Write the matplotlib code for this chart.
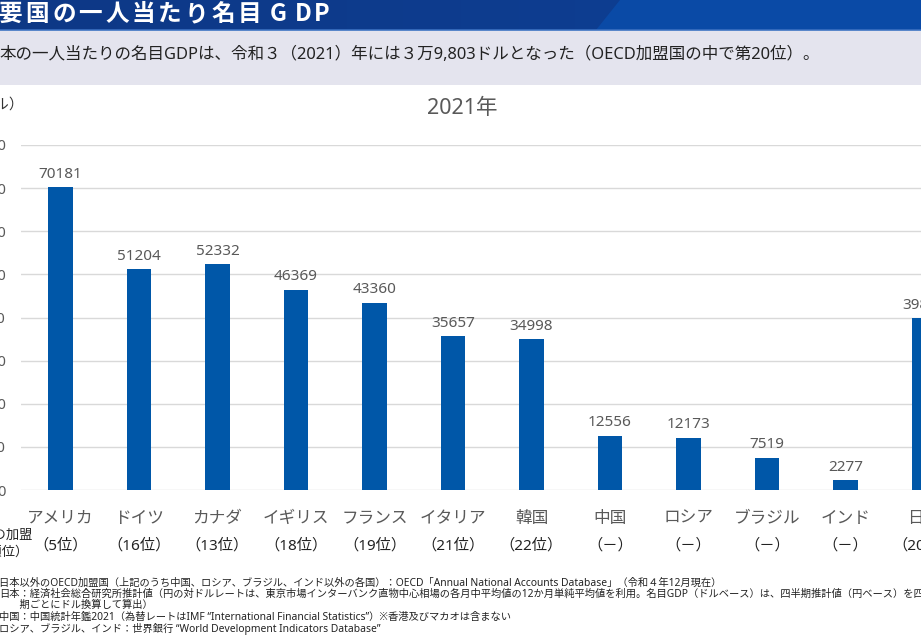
import numpy as np
import matplotlib
matplotlib.use("Agg")
import matplotlib.pyplot as plt
from matplotlib.patches import Polygon
from matplotlib.colors import LinearSegmentedColormap

plt.rcParams['font.family'] = ['Noto Sans', 'Noto Sans CJK JP', 'DejaVu Sans']

countries = ['アメリカ', 'ドイツ', 'カナダ', 'イギリス', 'フランス', 'イタリア',
             '韓国', '中国', 'ロシア', 'ブラジル', 'インド', '日本']
gdp = [70181, 51204, 52332, 46369, 43360, 35657, 34998, 12556, 12173, 7519, 2277, 39803]
ranks = ['（5位）', '（16位）', '（13位）', '（18位）', '（19位）', '（21位）',
         '（22位）', '（－）', '（－）', '（－）', '（－）', '（20位）']
yticks = [0, 10000, 20000, 30000, 40000, 50000, 60000, 70000, 80000]

header_jp = '要国の一人当たり名目'
header_en = 'GDP'
summary = '本の一人当たりの名目GDPは、令和３（2021）年には３万9,803ドルとなった（OECD加盟国の中で第20位）。'
notes = [
    '日本以外のOECD加盟国（上記のうち中国、ロシア、ブラジル、インド以外の各国）：OECD「Annual National Accounts Database」（令和４年12月現在）',
    '日本：経済社会総合研究所推計値（円の対ドルレートは、東京市場インターバンク直物中心相場の各月中平均値の12か月単純平均値を利用。名目GDP（ドルベース）は、四半期推計値（円ベース）を四半',
    '　　期ごとにドル換算して算出）',
    '中国：中国統計年鑑2021（為替レートはIMF “International Financial Statistics”）※香港及びマカオは含まない',
    'ロシア、ブラジル、インド：世界銀行 “World Development Indicators Database”',
]

W, H = 921, 638
fig = plt.figure(figsize=(W / 100, H / 100), dpi=100)

# 背景（ヘッダー帯とサマリー帯）
bg = fig.add_axes([0, 0, 1, 1], zorder=0)
bg.set_xlim(0, W)
bg.set_ylim(H, 0)
bg.axis('off')
grad = np.linspace(0, 1, 300)[None, :]
bg.imshow(grad, extent=[0, W, 30, 0], aspect='auto',
          cmap=LinearSegmentedColormap.from_list('hd', ['#0d3886', '#0d3c8e', '#0e4096']))
bg.add_patch(Polygon([[596, 30], [620, 0], [W, 0], [W, 30]], closed=True,
                     color='#0a4aa6', lw=0))
bg.imshow(grad, extent=[700, W, 30, 0], aspect='auto', alpha=0.9,
          cmap=LinearSegmentedColormap.from_list('hd2', ['#0b4aa8', '#0a3f95']))
bg.axhline(30, color='#3a6fc0', lw=1.2)
bg.add_patch(Polygon([[0, 31], [W, 31], [W, 85], [0, 85]], closed=True,
                     color='#e4e4ee', lw=0))
for i, ch in enumerate(header_jp):
    bg.text(-1 + i * 26.5, 14, ch, color='white', fontsize=17, fontweight='bold',
            va='center', ha='left', family='Noto Sans CJK JP')
for xl, ch in zip([270, 295, 314], header_en):
    bg.text(xl, 14, ch, color='white', fontsize=17, fontweight='bold',
            va='center', ha='left', family='Noto Sans CJK JP')
bg.text(-1, 55, summary, color='#222222', fontsize=11.9, va='center', ha='left')
bg.text(24, 105, '（ドル）', color='#333333', fontsize=10.5, va='center', ha='right')
bg.text(462, 108, '2021年', color='#595959', fontsize=15.5, va='center', ha='center')
bg.text(33, 535, '（OECDの加盟', color='#222222', fontsize=9.5, va='center', ha='right')
bg.text(29, 552, '国中順位）', color='#222222', fontsize=9.5, va='center', ha='right')
note_y = [583, 594, 605, 617, 629]
for y, t in zip(note_y, notes):
    bg.text(-1, y, t, color='#222222', fontsize=7.4, va='center', ha='left')

# グラフ本体
x = np.arange(len(countries))
ax = fig.add_axes([21.25 / W, (H - 490) / H, 942 / W, 345 / H], zorder=1)
ax.patch.set_alpha(0)
ax.bar(x, gdp, width=0.31, color='#0057a8', zorder=2)
ax.set_xlim(-0.5, 11.5)
ax.set_ylim(0, 80000)
ax.set_yticks(yticks)
ax.set_yticklabels([str(v) for v in yticks], color='#595959', fontsize=10.5)
ax.tick_params(axis='y', length=0, pad=11)
ax.grid(axis='y', color='#d9d9d9', lw=1, zorder=0)
for s in ax.spines.values():
    s.set_visible(False)
ax.set_xticks(x)
ax.set_xticklabels(countries, color='#595959', fontsize=12)
ax.tick_params(axis='x', length=0, pad=15)

for xi, v in zip(x, gdp):
    ax.annotate(str(v), (xi, v), xytext=(0, 4), textcoords='offset points',
                ha='center', va='bottom', color='#595959', fontsize=11)

for xi, r in zip(x, ranks):
    ax.annotate(r, (xi, 0), xytext=(0, -40), textcoords='offset points',
                ha='center', va='center', color='#222222', fontsize=11)

fig.savefig('out.png', dpi=100)
